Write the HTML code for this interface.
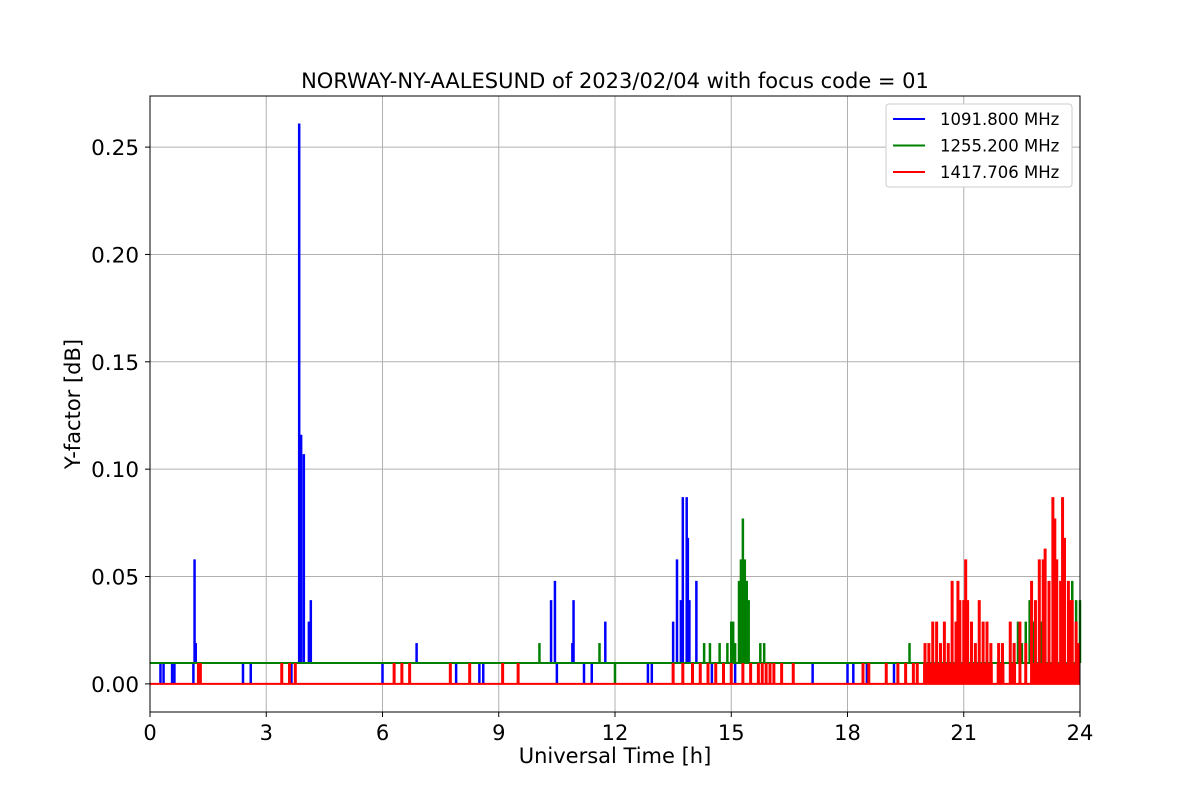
<!DOCTYPE html>
<html><head><meta charset="utf-8"><style>
body{margin:0;background:#fff}
svg text{font-family:"DejaVu Sans","Liberation Sans",sans-serif}
</style></head><body>
<svg id="chart" width="1200" height="800" xmlns="http://www.w3.org/2000/svg">
<rect width="1200" height="800" fill="#fff"/>
<g id="grid"></g><g id="series"></g><g id="axes"></g>
</svg>
<script>
const xTicks=[0,3,6,9,12,15,18,21,24];
const yTicks=[0,0.05,0.10,0.15,0.20,0.25];
const yTickLabels=["0.00","0.05","0.10","0.15","0.20","0.25"];
const blueBase=0.0097, greenBase=0.0097, redBase=0;
const blueEvents=[[0.27,0],[0.35,0],[0.57,0],[0.63,0],[1.12,0],[1.15,0.058],[1.18,0.019],[2.4,0],[2.6,0],[3.65,0],[3.85,0.261],[3.9,0.116],[3.97,0.107],[4.1,0.029],[4.15,0.039],[6.0,0],[6.88,0.019],[7.75,0],[7.9,0],[8.5,0],[8.6,0],[10.35,0.039],[10.45,0.048],[10.5,0],[10.9,0.019],[10.93,0.039],[11.2,0],[11.4,0],[11.75,0.029],[12.85,0],[12.95,0],[13.5,0.029],[13.6,0.058],[13.7,0.039],[13.75,0.087],[13.85,0.087],[13.88,0.068],[13.92,0.039],[14.1,0.048],[14.5,0],[15.1,0],[17.1,0],[18.0,0],[18.15,0],[18.5,0],[19.2,0],[20.1,0]];
const greenEvents=[[10.05,0.019],[11.6,0.019],[12.0,0],[14.3,0.019],[14.45,0.019],[14.7,0.019],[14.9,0.019],[15.0,0.029],[15.05,0.029],[15.1,0.019],[15.2,0.048],[15.25,0.058],[15.3,0.077],[15.35,0.058],[15.4,0.048],[15.45,0.039],[15.75,0.019],[15.85,0.019],[19.6,0.019],[22.3,0.019],[22.4,0.029],[22.5,0.019],[22.6,0.029],[22.7,0.039],[22.8,0.029],[23.0,0.029],[23.1,0.048],[23.8,0.048],[23.9,0.039],[24.0,0.039]];
const redEvents=[[1.25,0.0097],[1.3,0.0097],[3.4,0.0097],[3.6,0.0097],[3.75,0.0097],[6.3,0.0097],[6.5,0.0097],[6.7,0.0097],[7.75,0.0097],[8.25,0.0097],[9.1,0.0097],[9.5,0.0097],[13.5,0.0097],[13.75,0.0097],[14.0,0.0097],[14.2,0.0097],[14.4,0.0097],[14.6,0.0097],[14.8,0.0097],[15.0,0.0097],[15.3,0.0097],[15.5,0.0097],[15.7,0.0097],[15.8,0.0097],[15.9,0.0097],[16.0,0.0097],[16.1,0.0097],[16.3,0.0097],[16.6,0.0097],[18.4,0.0097],[18.55,0.0097],[19.0,0.0097],[19.3,0.0097],[19.5,0.0097],[19.7,0.0097],[19.8,0.0097],[20.0,0.019],[20.1,0.019],[20.2,0.029],[20.3,0.029],[20.4,0.019],[20.5,0.029],[20.6,0.019],[20.7,0.048],[20.8,0.029],[20.85,0.048],[20.9,0.039],[21.0,0.039],[21.05,0.058],[21.1,0.039],[21.2,0.029],[21.3,0.019],[21.4,0.039],[21.5,0.029],[21.6,0.029],[21.7,0.019],[21.9,0.019],[22.0,0.019],[22.2,0.029],[22.3,0.019],[22.45,0.029],[22.6,0.019],[22.75,0.048],[22.85,0.039],[22.95,0.058],[23.05,0.058],[23.1,0.063],[23.2,0.048],[23.3,0.087],[23.35,0.077],[23.4,0.058],[23.5,0.048],[23.55,0.087],[23.6,0.068],[23.7,0.048],[23.75,0.039],[23.8,0.039],[23.9,0.029],[23.95,0.019]];
const redBands=[[19.95,21.75,0.0097],[21.85,22.05,0.0097],[22.2,22.35,0.0097],[22.75,24,0.0097]];

const X0=150,X1=1080,Y0=96,Y1=712,xmin=0,xmax=24,ymin=-0.0131,ymax=0.2738;
const sx=t=>X0+(t-xmin)/(xmax-xmin)*(X1-X0);
const sy=v=>Y1-(v-ymin)/(ymax-ymin)*(Y1-Y0);
const NS="http://www.w3.org/2000/svg";
function mk(tag,attrs,parent,txt){const e=document.createElementNS(NS,tag);for(const k in attrs)e.setAttribute(k,attrs[k]);if(txt!==undefined)e.textContent=txt;parent.appendChild(e);return e;}
const grid=document.getElementById('grid'),ser=document.getElementById('series'),ax=document.getElementById('axes');
xTicks.forEach(t=>{const l=mk('line',{x1:sx(t),x2:sx(t),y1:Y0,y2:Y1,stroke:'#b0b0b0','stroke-width':1},grid);


mk('line',{x1:sx(t),x2:sx(t),y1:Y1,y2:Y1+5,stroke:'#000'},ax);
const tx=mk('text',{x:sx(t),y:Y1+28,'font-size':21,'text-anchor':'middle'},ax,String(t));

});
yTicks.forEach((v,i)=>{const l=mk('line',{x1:X0,x2:X1,y1:sy(v),y2:sy(v),stroke:'#b0b0b0','stroke-width':1},grid);


mk('line',{x1:X0-5,x2:X0,y1:sy(v),y2:sy(v),stroke:'#000'},ax);
const tx=mk('text',{x:X0-11,y:sy(v)+8,'font-size':21.5,'text-anchor':'end'},ax,yTickLabels[i]);

});
function drawSeries(base,events,color,name,w){
 const b=mk('line',{x1:sx(0),x2:sx(24),y1:sy(base),y2:sy(base),stroke:color,'stroke-width':2},ser);
 
 
 events.forEach(([t,v])=>{const l=mk('line',{x1:sx(t),x2:sx(t),y1:sy(base),y2:sy(v),stroke:color,'stroke-width':w},ser);
 
 });
}
drawSeries(blueBase,blueEvents,'#0000ff','series-1091',2.5);
drawSeries(greenBase,greenEvents,'#008000','series-1255',2.5);
drawSeries(redBase,redEvents,'#ff0000','series-1417',3);
redBands.forEach(([a,b,v])=>{const r=mk('rect',{x:sx(a),y:sy(v),width:sx(b)-sx(a),height:sy(0)-sy(v),fill:'#ff0000'},ser);

});
mk('rect',{x:X0,y:Y0,width:X1-X0,height:Y1-Y0,fill:'none',stroke:'#000','stroke-width':1},ax);
let t=mk('text',{x:615,y:88,'font-size':21,'text-anchor':'middle'},ax,'NORWAY-NY-AALESUND of 2023/02/04 with focus code = 01');


t=mk('text',{x:615,y:763,'font-size':21,'text-anchor':'middle'},ax,'Universal Time [h]');


t=mk('text',{x:80,y:404,'font-size':21,'text-anchor':'middle',transform:'rotate(-90 80 404)'},ax,'Y-factor [dB]');


const lg=mk('g',{},ax);


mk('rect',{x:886,y:104,width:186,height:83,rx:3,fill:'#fff',stroke:'#ccc'},lg);
[['1091.800 MHz','#0000ff'],['1255.200 MHz','#008000'],['1417.706 MHz','#ff0000']].forEach(([s,c],i)=>{
 const y=119+i*26.5;
 const g=mk('g',{},lg);
 
 
 mk('line',{x1:893,x2:925,y1:y,y2:y,stroke:c,'stroke-width':2},g);
 mk('text',{x:940,y:y+6,'font-size':16.5},g,s);
});
</script>
</body></html>
